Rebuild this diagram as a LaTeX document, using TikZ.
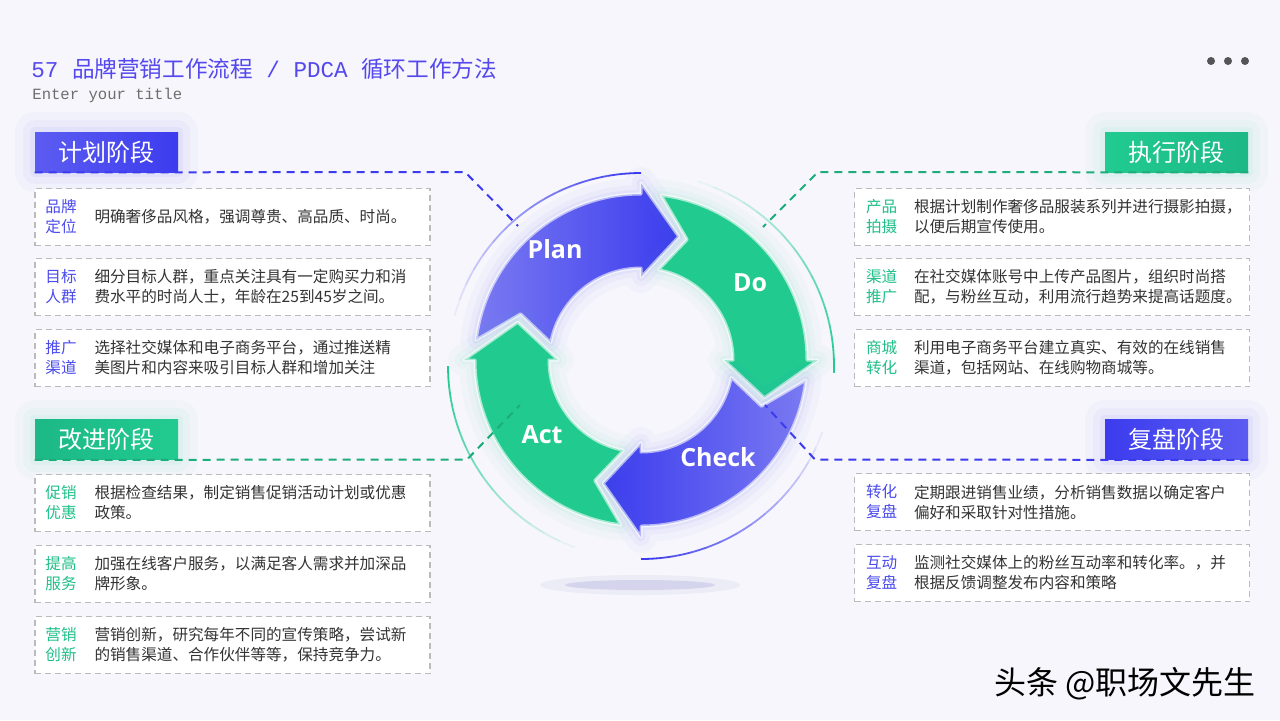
\documentclass[tikz,border=0pt]{standalone}
\usepackage{fontspec}
\setmainfont{Noto Sans CJK SC}
\setmonofont{Liberation Mono}
\newfontfamily\cyclefont{Open Sans}
\usetikzlibrary{positioning}
\definecolor{pdcablue}{HTML}{3C3CEE}
\definecolor{pdcablueL}{HTML}{7A7AF2}
\definecolor{tagblueL}{HTML}{5C5CF2}
\definecolor{pdcagreen}{HTML}{21CB90}
\definecolor{pdcagreenD}{HTML}{1CB886}
\definecolor{bgcol}{HTML}{F6F6FC}
\definecolor{titlecol}{HTML}{5548EE}
\definecolor{boxline}{HTML}{BBBBBB}
\definecolor{txtcol}{HTML}{333333}
\definecolor{keyblue}{HTML}{4B4BEE}
\definecolor{keygreen}{HTML}{20BF88}
\definecolor{dotcol}{HTML}{555555}
\begin{document}
\begin{tikzpicture}[x=0.5pt,y=0.5pt]
\tikzstyle{tag}=[minimum width=71.5pt,minimum height=20pt,inner sep=0pt,text=white,font=\fontsize{12}{14}\selectfont]
\tikzstyle{tagglowblue}=[preaction={draw=pdcablue,line width=20pt,draw opacity=0.025,line join=round,rounded corners=6pt},preaction={draw=pdcablue,line width=12pt,draw opacity=0.035,line join=round,rounded corners=4pt},preaction={draw=pdcablue,line width=5pt,draw opacity=0.05,line join=round}]
\tikzstyle{tagglowgreen}=[preaction={draw=pdcagreen,line width=20pt,draw opacity=0.025,line join=round,rounded corners=6pt},preaction={draw=pdcagreen,line width=12pt,draw opacity=0.035,line join=round,rounded corners=4pt},preaction={draw=pdcagreen,line width=5pt,draw opacity=0.05,line join=round}]
\tikzstyle{itembox}=[draw=boxline,line width=0.9pt,dash pattern=on 3pt off 2pt,fill=white,minimum width=197.5pt,minimum height=28.5pt,inner sep=0pt]
\tikzstyle{keyp}=[inner sep=0pt,align=left,font=\fontsize{7.8}{10}\selectfont]
\tikzstyle{desc}=[inner sep=0pt,align=left,text=txtcol,font=\fontsize{7.8}{10}\selectfont]
\tikzstyle{linkblue}=[draw=pdcablue,line width=1pt,dash pattern=on 4pt off 3pt]
\tikzstyle{linkgreen}=[draw=pdcagreen!85!black,line width=1pt,dash pattern=on 4pt off 3pt]
\tikzstyle{ringblue}=[draw=white,draw opacity=0.6,line width=1.5pt,line join=round,preaction={draw=pdcablue,line width=16pt,draw opacity=0.025,line join=round},preaction={draw=pdcablue,line width=9pt,draw opacity=0.035,line join=round},preaction={draw=pdcablue,line width=4pt,draw opacity=0.05,line join=round}]
\tikzstyle{ringgreen}=[draw=white,draw opacity=0.6,line width=1.5pt,line join=round,fill=pdcagreen,preaction={draw=pdcagreen,line width=16pt,draw opacity=0.025,line join=round},preaction={draw=pdcagreen,line width=9pt,draw opacity=0.035,line join=round},preaction={draw=pdcagreen,line width=4pt,draw opacity=0.05,line join=round}]
\tikzstyle{cyclelabel}=[text=white,inner sep=0pt,font=\cyclefont\bfseries\fontsize{12.5}{15}\selectfont]

\useasboundingbox (0,0) rectangle (1280,-720);
\fill[bgcol] (0,0) rectangle (1280,-720);

\path (31,-69) node[anchor=west,inner sep=0pt,text=titlecol,font=\fontsize{11.3}{13}\selectfont](title){\texttt{57 }品牌营销工作流程\texttt{ / PDCA }循环工作方法};
\path (32,-95) node[anchor=west,inner sep=0pt,text=dotcol!85,font=\ttfamily\fontsize{7.8}{9}\selectfont](subtitle){Enter your title};
\foreach \x in {1211,1228,1245} \fill[dotcol] (\x,-61) circle[radius=4];

\fill[gray!60!blue,opacity=0.06] (640,-585) ellipse[x radius=100,y radius=10];
\fill[gray!60!blue,opacity=0.15] (640,-585) ellipse[x radius=75,y radius=5];

\begin{scope}[shift={(641,-366)}]
\foreach \a [evaluate=\a as \op using 1-\a/15, evaluate=\a as \s using 90+5*\a] in {0,...,14}
  \draw[pdcablue,line width=0.9pt,opacity=\op] (\s:193) arc[start angle=\s,delta angle=5,radius=193];
\foreach \a [evaluate=\a as \op using 1-\a/15, evaluate=\a as \s using -2+5*\a] in {0,...,14}
  \draw[pdcagreen,line width=0.9pt,opacity=\op] (\s:193) arc[start angle=\s,delta angle=5,radius=193];
\foreach \a [evaluate=\a as \op using 1-\a/14, evaluate=\a as \s using -90+5*\a] in {0,...,13}
  \draw[pdcablue,line width=0.9pt,opacity=\op] (\s:193) arc[start angle=\s,delta angle=5,radius=193];
\foreach \a [evaluate=\a as \op using 1-\a/14, evaluate=\a as \s using 180+5*\a] in {0,...,13}
  \draw[pdcagreen,line width=0.9pt,opacity=\op] (\s:193) arc[start angle=\s,delta angle=5,radius=193];
\end{scope}

\begin{scope}[shift={(641,-360)}]
\path[ringblue,left color=pdcablueL,right color=pdcablue] (173:166) arc[start angle=173,end angle=90,radius=166] -- (90:177) -- (73:129) -- (90:83) -- (90:92) arc[start angle=90,end angle=169,radius=92] -- (159:129) -- cycle;
\path[ringgreen] (83:166) arc[start angle=83,end angle=0,radius=166] -- (0:177) -- (-17:129) -- (0:83) -- (0:92) arc[start angle=0,end angle=79,radius=92] -- (69:129) -- cycle;
\path[ringblue,left color=pdcablue,right color=pdcablueL] (-7:166) arc[start angle=-7,end angle=-90,radius=166] -- (-90:177) -- (-107:129) -- (-90:83) -- (-90:92) arc[start angle=-90,end angle=-11,radius=92] -- (-21:129) -- cycle;
\path[ringgreen] (263:166) arc[start angle=263,end angle=180,radius=166] -- (180:177) -- (163:129) -- (180:83) -- (180:92) arc[start angle=180,end angle=259,radius=92] -- (249:129) -- cycle;
\end{scope}

\path (555,-249) node[cyclelabel](plan){Plan};
\path (750,-283) node[cyclelabel](do){Do};
\path (718,-457) node[cyclelabel](check){Check};
\path (542,-435) node[cyclelabel](act){Act};

\path (106.5,-152) node[tag,tagglowblue,left color=tagblueL,right color=pdcablue](plantag){计划阶段};
\path (1176.5,-152) node[tag,tagglowgreen,left color=pdcagreen,right color=pdcagreenD](dotag){执行阶段};
\path (106.5,-439.5) node[tag,tagglowgreen,left color=pdcagreenD,right color=pdcagreen](acttag){改进阶段};
\path (1176.5,-439.5) node[tag,tagglowblue,left color=pdcablue,right color=tagblueL](checktag){复盘阶段};

\coordinate (planbend) at (465,-172); \coordinate (planend) at (518,-226);
\coordinate (dobend) at (818,-172); \coordinate (doend) at (763,-227);
\coordinate (checkbend) at (815,-459.5); \coordinate (checkend) at (765,-405);
\coordinate (actbend) at (467,-459.5); \coordinate (actend) at (520,-405);
\draw[linkblue] (plantag.south west) -- (planbend) -- (planend);
\draw[linkgreen] (dotag.south east) -- (dobend) -- (doend);
\draw[linkblue] (checktag.south east) -- (checkbend) -- (checkend);
\draw[linkgreen] (acttag.south west) -- (actbend) -- (actend);

\path (232.5,-217) node[itembox](p1){};
\node[keyp,text=keyblue,right=5.5pt of p1.west](p1k){品牌\\定位};
\node[desc,right=30pt of p1.west](p1d){明确奢侈品风格，强调尊贵、高品质、时尚。};
\path (232.5,-287) node[itembox](p2){};
\node[keyp,text=keyblue,right=5.5pt of p2.west](p2k){目标\\人群};
\node[desc,right=30pt of p2.west](p2d){细分目标人群，重点关注具有一定购买力和消\\费水平的时尚人士，年龄在25到45岁之间。};
\path (232.5,-358) node[itembox](p3){};
\node[keyp,text=keyblue,right=5.5pt of p3.west](p3k){推广\\渠道};
\node[desc,right=30pt of p3.west](p3d){选择社交媒体和电子商务平台，通过推送精\\美图片和内容来吸引目标人群和增加关注};

\path (232.5,-503) node[itembox](a1){};
\node[keyp,text=keygreen,right=5.5pt of a1.west](a1k){促销\\优惠};
\node[desc,right=30pt of a1.west](a1d){根据检查结果，制定销售促销活动计划或优惠\\政策。};
\path (232.5,-574) node[itembox](a2){};
\node[keyp,text=keygreen,right=5.5pt of a2.west](a2k){提高\\服务};
\node[desc,right=30pt of a2.west](a2d){加强在线客户服务，以满足客人需求并加深品\\牌形象。};
\path (232.5,-645) node[itembox](a3){};
\node[keyp,text=keygreen,right=5.5pt of a3.west](a3k){营销\\创新};
\node[desc,right=30pt of a3.west](a3d){营销创新，研究每年不同的宣传策略，尝试新\\的销售渠道、合作伙伴等等，保持竞争力。};

\path (1052,-217) node[itembox](d1){};
\node[keyp,text=keygreen,right=6pt of d1.west](d1k){产品\\拍摄};
\node[desc,right=30pt of d1.west](d1d){根据计划制作奢侈品服装系列并进行摄影拍摄，\\以便后期宣传使用。};
\path (1052,-287) node[itembox](d2){};
\node[keyp,text=keygreen,right=6pt of d2.west](d2k){渠道\\推广};
\node[desc,right=30pt of d2.west](d2d){在社交媒体账号中上传产品图片，组织时尚搭\\配，与粉丝互动，利用流行趋势来提高话题度。};
\path (1052,-358) node[itembox](d3){};
\node[keyp,text=keygreen,right=6pt of d3.west](d3k){商城\\转化};
\node[desc,right=30pt of d3.west](d3d){利用电子商务平台建立真实、有效的在线销售\\渠道，包括网站、在线购物商城等。};

\path (1052,-502) node[itembox](c1){};
\node[keyp,text=keyblue,right=6pt of c1.west](c1k){转化\\复盘};
\node[desc,right=30pt of c1.west](c1d){定期跟进销售业绩，分析销售数据以确定客户\\偏好和采取针对性措施。};
\path (1052,-573) node[itembox](c2){};
\node[keyp,text=keyblue,right=6pt of c2.west](c2k){互动\\复盘};
\node[desc,right=30pt of c2.west](c2d){监测社交媒体上的粉丝互动率和转化率。，并\\根据反馈调整发布内容和策略};

\path (1125,-684) node[inner sep=0pt,text=black,font=\fontsize{16}{18}\selectfont](mark){头条 @职场文先生};
\end{tikzpicture}
\end{document}
